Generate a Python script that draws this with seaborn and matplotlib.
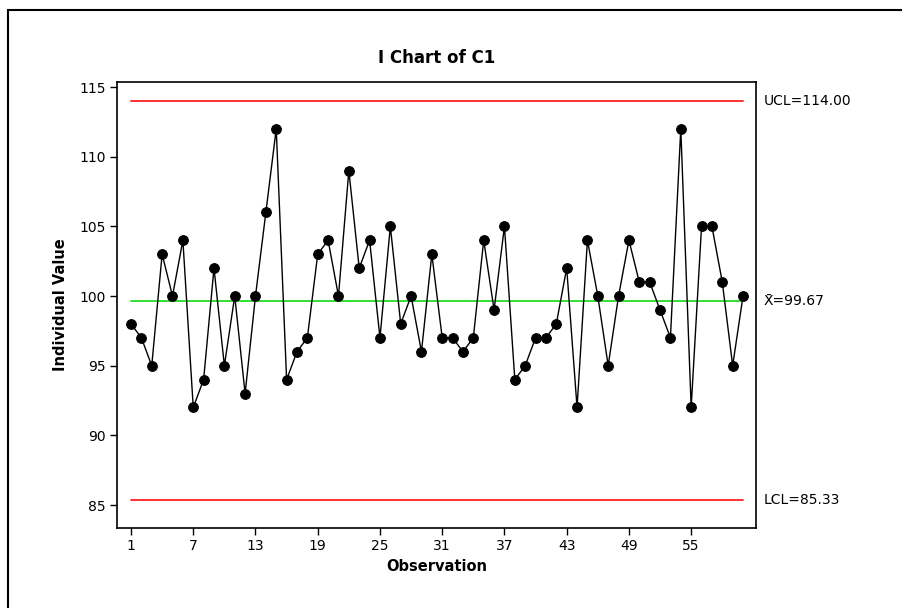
import numpy as np
import pandas as pd
import matplotlib
matplotlib.use("Agg")
import matplotlib.pyplot as plt
from matplotlib.patches import Rectangle
import seaborn as sns

# I chart values
values = [98, 97, 95, 103, 100, 104, 92, 94, 102, 95,
          100, 93, 100, 106, 112, 94, 96, 97, 103, 104,
          100, 109, 102, 104, 97, 105, 98, 100, 96, 103,
          97, 97, 96, 97, 104, 99, 105, 94, 95, 97,
          97, 98, 102, 92, 104, 100, 95, 100, 104, 101,
          101, 99, 97, 112, 92, 105, 105, 101, 95, 100]
observation = list(range(1, len(values) + 1))
ucl = 114.00
center = 99.67
lcl = 85.33
x_ticks = [1, 7, 13, 19, 25, 31, 37, 43, 49, 55]
y_ticks = [85, 90, 95, 100, 105, 110, 115]

df = pd.DataFrame({'Observation': observation, 'Value': values})

sns.set_style('white')
plt.rcParams['font.family'] = ['DejaVu Sans']
plt.rcParams['text.color'] = 'black'
plt.rcParams['axes.labelcolor'] = 'black'

fig = plt.figure(figsize=(9.03, 6.08), dpi=100)
ax = fig.add_axes([117 / 903, 1 - 528 / 608, (756 - 117) / 903, (528 - 82) / 608])

# control limits
ax.plot([observation[0], observation[-1]], [ucl, ucl], color='#ff2020', lw=1.3, zorder=1)
ax.plot([observation[0], observation[-1]], [lcl, lcl], color='#ff2020', lw=1.3, zorder=1)
ax.plot([observation[0], observation[-1]], [center, center], color='#22dd22', lw=1.3, zorder=1)

sns.lineplot(data=df, x='Observation', y='Value', ax=ax, color='black', lw=1.0,
             marker='o', markersize=7, markeredgecolor='black', zorder=3)

ax.set_xlim(-0.35, 61.25)
ax.set_ylim(83.35, 115.36)
ax.set_xticks(x_ticks)
ax.set_yticks(y_ticks)
ax.tick_params(axis='both', direction='out', length=5, width=1, colors='black',
               labelsize=10, bottom=True, left=True, pad=3)
for s in ax.spines.values():
    s.set_color('black')
    s.set_linewidth(1.2)

ax.set_xlabel('Observation', fontsize=10.5, fontweight='bold', labelpad=4, color='black')
ax.set_ylabel('Individual Value', fontsize=10.5, fontweight='bold', labelpad=8, color='black')
ax.set_title('I Chart of C1', fontsize=12, fontweight='bold', pad=14, color='black')

# limit labels on the right side
ax.text(1.012, ucl, 'UCL=114.00', transform=ax.get_yaxis_transform(),
        va='center', ha='left', fontsize=10, color='black')
ax.text(1.012, center, 'X\u0304=99.67', transform=ax.get_yaxis_transform(),
        va='center', ha='left', fontsize=10, color='black')
ax.text(1.012, lcl, 'LCL=85.33', transform=ax.get_yaxis_transform(),
        va='center', ha='left', fontsize=10, color='black')

# outer frame (only left and top edges are visible in the picture)
fig.patches.append(Rectangle((8 / 903, -0.1), 1.2, 1.1 - 10 / 608, transform=fig.transFigure,
                             fill=False, edgecolor='black', lw=1.5))

fig.savefig('out.png', dpi=100)
